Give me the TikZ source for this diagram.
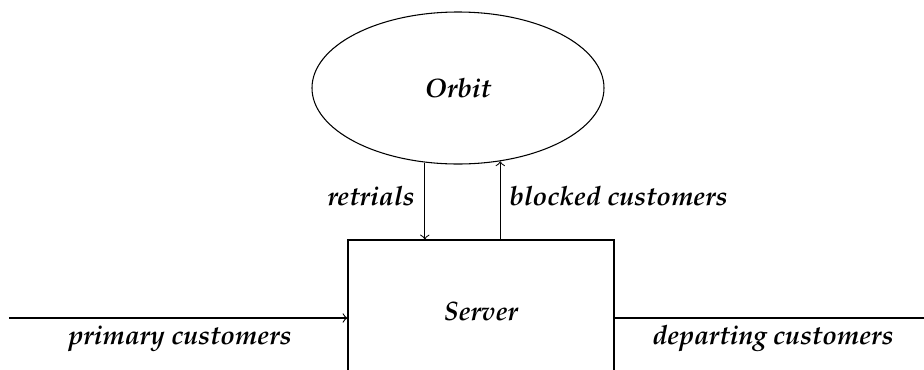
\documentclass[tikz,border=0pt]{standalone}
\usepackage[T1]{fontenc}
\usepackage{mathpazo}
\usetikzlibrary{shapes.geometric}
\tikzset{
  lbl/.style={font=\bfseries\itshape, inner sep=0pt},
  flow/.style={->, line width=0.4pt},
}
\begin{document}
\begin{tikzpicture}[x=0.375pt, y=-0.375pt]
  \useasboundingbox (0,0) rectangle (924,369);
  % retrial orbit and server
  \node[ellipse, draw, minimum width=292*0.375pt, minimum height=152*0.375pt, inner sep=0pt, font=\bfseries\itshape] (orbit) at (458,88) {Orbit};
  \node[rectangle, draw, minimum width=266*0.375pt, minimum height=156*0.375pt, inner sep=0pt] (server) at (481,318) {};
  \node[lbl] (srvtxt) at (481,311) {Server};
  % flows between orbit and server
  \draw[flow] (orbit.246) -- (orbit.246 |- server.north);
  \draw[flow] (orbit.300 |- server.north) -- (orbit.300);
  \node[lbl, anchor=east] (rtr) at (415,196) {retrials};
  \node[lbl, anchor=west] (blk) at (509,196) {blocked customers};
  % arrivals and departures
  \coordinate (src) at (9,318);
  \coordinate (snk) at (924,318);
  \draw[flow] (src) -- (src -| server.west);
  \draw (server.east |- snk) -- (snk);
  \node[lbl] (prim) at (180,339) {primary customers};
  \node[lbl] (dep) at (773,339) {departing customers};
\end{tikzpicture}
\end{document}
